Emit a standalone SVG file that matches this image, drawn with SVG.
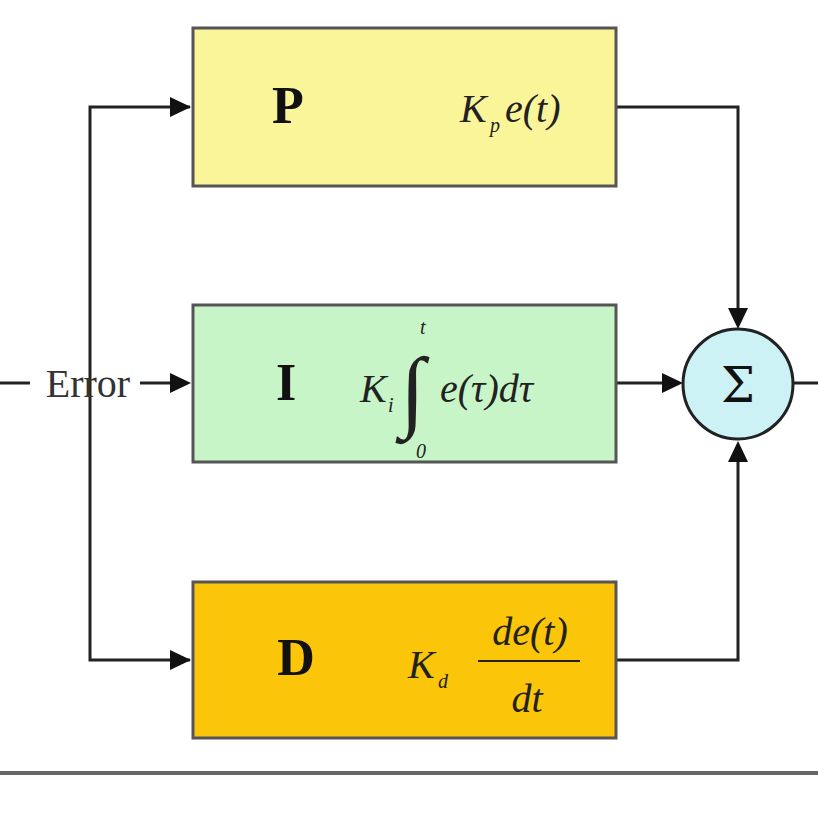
<svg xmlns="http://www.w3.org/2000/svg" width="818" height="818" viewBox="0 0 818 818">
<defs>
<style>
.box{stroke:#555;stroke-width:3}
.ln{fill:none;stroke:#222;stroke-width:3}
.big{font-family:"Liberation Serif",serif;font-weight:bold;font-size:52px;fill:#111}
.m{font-family:"Liberation Serif",serif;font-style:italic;font-size:40px;fill:#222}
.s{font-family:"Liberation Serif",serif;font-style:italic;font-size:20px;fill:#222}
</style>
</defs>
<rect width="818" height="818" fill="#fff"/>
<g id="connectors">
<line x1="0" y1="383" x2="30" y2="383" class="ln"/>
<line x1="140" y1="383" x2="172" y2="383" class="ln"/>
<path d="M190,107H90V660H190" class="ln"/>
<polygon points="170,97 191,107 170,117" fill="#111"/>
<polygon points="170,650 191,660 170,670" fill="#111"/>
<polygon points="170,373 191,383 170,393" fill="#111"/>
<path d="M616,107H738V310" class="ln"/>
<polygon points="728,308 738,329 748,308" fill="#111"/>
<path d="M616,660H738V460" class="ln"/>
<polygon points="728,462 738,441 748,462" fill="#111"/>
<line x1="616" y1="383" x2="665" y2="383" class="ln"/>
<polygon points="662,373 683,383 662,393" fill="#111"/>
<line x1="793" y1="383" x2="818" y2="383" class="ln"/>
<line x1="0" y1="773" x2="818" y2="773" stroke="#666" stroke-width="4"/>
<text x="88" y="397" font-family="Liberation Serif,serif" font-size="40" fill="#333" text-anchor="middle">Error</text>
</g>
<g id="P">
<rect x="193" y="28" width="423" height="158" fill="#fbf59a" class="box"/>
<text x="288" y="123" class="big" text-anchor="middle">P</text>
<text x="460" y="122" class="m">K</text><text x="490" y="132" class="s">p</text><text x="505" y="122" class="m">e(t)</text>
</g>
<g id="I">
<rect x="193" y="305" width="423" height="157" fill="#c8f5c8" class="box"/>
<text x="286" y="400" class="big" text-anchor="middle">I</text>
<text x="360" y="402" class="m">K</text><text x="388" y="412" class="s">i</text>
<text x="400" y="420" font-family="Liberation Serif,serif" font-size="90" fill="#222">∫</text>
<text x="420" y="334" class="s">t</text><text x="416" y="458" class="s" font-style="normal">0</text>
<text x="440" y="402" class="m">e(τ)dτ</text>
</g>
<g id="D">
<rect x="193" y="582" width="423" height="156" fill="#fbc60a" class="box"/>
<text x="296" y="675" class="big" text-anchor="middle">D</text>
<text x="408" y="678" class="m">K</text><text x="438" y="688" class="s">d</text>
<text x="530" y="645" class="m" text-anchor="middle">de(t)</text>
<line x1="478" y1="661" x2="580" y2="661" stroke="#222" stroke-width="2"/>
<text x="527" y="712" class="m" text-anchor="middle">dt</text>
</g>
<g id="Sum">
<circle cx="738" cy="384" r="55" fill="#cdf2f5" stroke="#222" stroke-width="3"/>
<text x="738" y="402" font-family="DejaVu Serif,serif" font-size="48" fill="#111" text-anchor="middle">Σ</text>
</g>
</svg>
